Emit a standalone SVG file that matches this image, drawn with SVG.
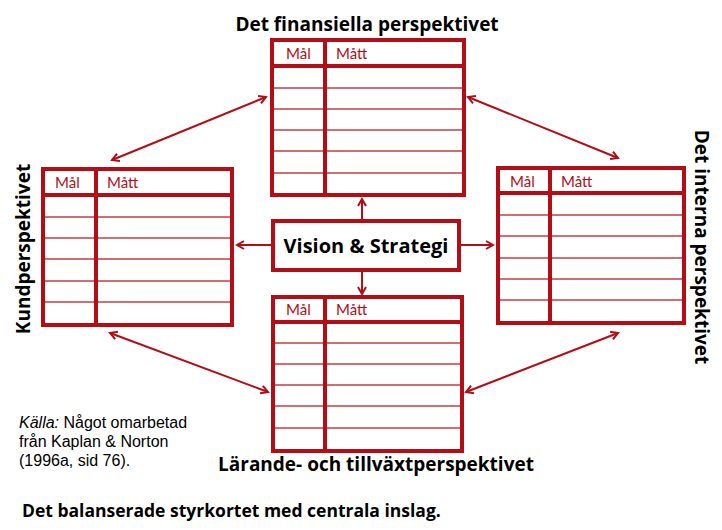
<svg xmlns="http://www.w3.org/2000/svg" width="722" height="530" viewBox="0 0 722 530">
<defs>
<marker id="ah" markerWidth="10" markerHeight="10" refX="8" refY="5" orient="auto-start-reverse" markerUnits="userSpaceOnUse">
<path d="M1,1 L8,5 L1,9" fill="none" stroke="#b50d16" stroke-width="2"/>
</marker>
<style>
.frame{fill:#fff;stroke:#b50d16;stroke-width:4}
.div{stroke:#b50d16;stroke-width:4}
.row{stroke:#b50d16;stroke-width:1.3;opacity:0.8}
.hd{font-family:Lato,"Open Sans",sans-serif;font-size:15px;fill:#b50d16}
.title{font-family:"Open Sans",Lato,sans-serif;font-size:19px;font-weight:bold;fill:#000}
.conn{stroke:#b50d16;stroke-width:2;fill:none;marker-end:url(#ah)}
.both{marker-start:url(#ah)}
.src{font-family:"Liberation Sans",Arial,sans-serif;font-size:16px;fill:#000}
</style>
</defs>
<rect width="722" height="530" fill="#fff"/>

<g id="connectors">
<line class="conn" x1="362" y1="220" x2="362" y2="199"/>
<line class="conn" x1="362" y1="270" x2="362" y2="294"/>
<line class="conn" x1="272" y1="245" x2="237" y2="245"/>
<line class="conn" x1="459" y1="245" x2="493" y2="245"/>
<line class="conn both" x1="112" y1="160" x2="266" y2="97"/>
<line class="conn both" x1="468" y1="97" x2="618" y2="158"/>
<line class="conn both" x1="110" y1="333" x2="268" y2="392"/>
<line class="conn both" x1="466" y1="392" x2="618" y2="333"/>
</g>

<g id="financial">
<rect class="frame" x="272" y="40" width="192" height="155"/>
<line class="div" x1="272" y1="66" x2="464" y2="66"/>
<line class="div" x1="325" y1="40" x2="325" y2="195"/>
<line class="row" x1="274" y1="88" x2="462" y2="88"/>
<line class="row" x1="274" y1="109" x2="462" y2="109"/>
<line class="row" x1="274" y1="130" x2="462" y2="130"/>
<line class="row" x1="274" y1="151" x2="462" y2="151"/>
<line class="row" x1="274" y1="173" x2="462" y2="173"/>
<text class="hd" x="286" y="59">Mål</text>
<text class="hd" x="336" y="59">Mått</text>
<text class="title" x="367" y="31" text-anchor="middle">Det finansiella perspektivet</text>
</g>

<g id="customer">
<rect class="frame" x="43" y="169" width="189" height="156"/>
<line class="div" x1="43" y1="195" x2="232" y2="195"/>
<line class="div" x1="96" y1="169" x2="96" y2="325"/>
<line class="row" x1="45" y1="217" x2="230" y2="217"/>
<line class="row" x1="45" y1="238" x2="230" y2="238"/>
<line class="row" x1="45" y1="259" x2="230" y2="259"/>
<line class="row" x1="45" y1="281" x2="230" y2="281"/>
<line class="row" x1="45" y1="302" x2="230" y2="302"/>
<text class="hd" x="55" y="188">Mål</text>
<text class="hd" x="107" y="188">Mått</text>
<text class="title" transform="translate(30,249) rotate(-90)" text-anchor="middle">Kundperspektivet</text>
</g>

<g id="internal">
<rect class="frame" x="498" y="168" width="186" height="155"/>
<line class="div" x1="498" y1="193" x2="684" y2="193"/>
<line class="div" x1="550" y1="168" x2="550" y2="323"/>
<line class="row" x1="500" y1="215" x2="682" y2="215"/>
<line class="row" x1="500" y1="236" x2="682" y2="236"/>
<line class="row" x1="500" y1="258" x2="682" y2="258"/>
<line class="row" x1="500" y1="279" x2="682" y2="279"/>
<line class="row" x1="500" y1="300" x2="682" y2="300"/>
<text class="hd" x="510" y="187">Mål</text>
<text class="hd" x="561" y="187">Mått</text>
<text class="title" transform="translate(695,247) rotate(90)" text-anchor="middle">Det interna perspektivet</text>
</g>

<g id="learning">
<rect class="frame" x="273" y="297" width="189" height="154"/>
<line class="div" x1="273" y1="322" x2="462" y2="322"/>
<line class="div" x1="325" y1="297" x2="325" y2="451"/>
<line class="row" x1="275" y1="343" x2="460" y2="343"/>
<line class="row" x1="275" y1="364" x2="460" y2="364"/>
<line class="row" x1="275" y1="385" x2="460" y2="385"/>
<line class="row" x1="275" y1="406" x2="460" y2="406"/>
<line class="row" x1="275" y1="428" x2="460" y2="428"/>
<text class="hd" x="286" y="315">Mål</text>
<text class="hd" x="336" y="315">Mått</text>
<text class="title" x="376" y="471" text-anchor="middle">Lärande- och tillväxtperspektivet</text>
</g>

<g id="vision">
<rect class="frame" x="273" y="221" width="186" height="49"/>
<text class="title" x="366" y="253" text-anchor="middle" style="font-size:20px">Vision &amp; Strategi</text>
</g>

<g id="source">
<text class="src" x="19" y="428"><tspan font-style="italic">Källa:</tspan> Något omarbetad</text>
<text class="src" x="19" y="447">från Kaplan &amp; Norton</text>
<text class="src" x="19" y="466">(1996a, sid 76).</text>
</g>

<text class="title" x="22" y="517" style="font-size:17.5px">Det balanserade styrkortet med centrala inslag.</text>
</svg>
